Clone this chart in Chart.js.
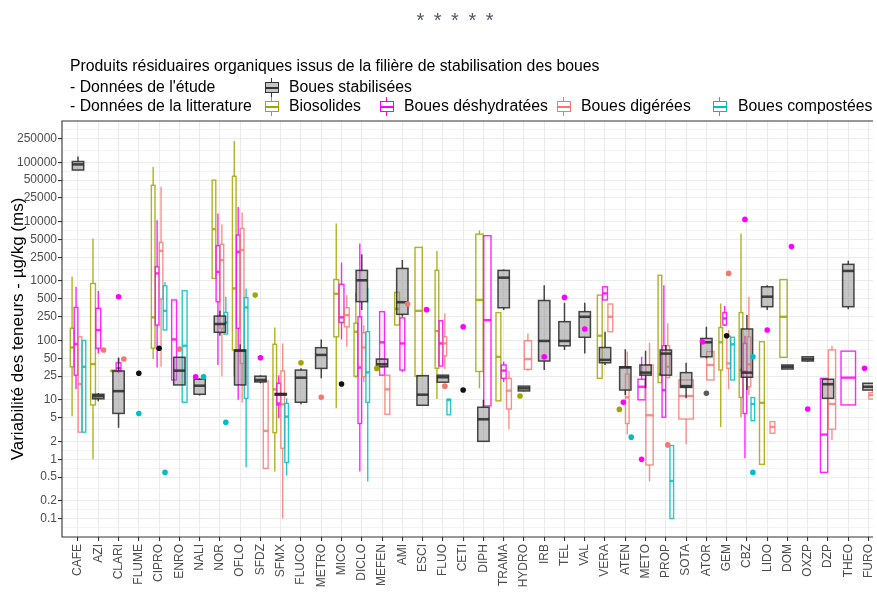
<!DOCTYPE html>
<html lang="fr">
<head>
<meta charset="utf-8">
<title>Variabilité des teneurs</title>
<script src="https://cdn.jsdelivr.net/npm/chart.js@4.4.1/dist/chart.umd.min.js"></script>
<style>
  html, body { margin: 0; padding: 0; background: #fff; }
  #wrap { position: relative; width: 877px; height: 593px; overflow: hidden;
          font-family: "Liberation Sans", Arial, sans-serif; color: #000; }
  #chart { position: absolute; left: 0; top: 0; }
  #stars { position: absolute; left: 356px; top: 10px; width: 200px; text-align: center;
           font-size: 20px; line-height: 20px; letter-spacing: 2px; color: #505868; }
  .lg { position: absolute; font-size: 15.8px; line-height: 20px; white-space: nowrap; }
  .key { position: absolute; width: 18px; height: 19px; }
  .key i { position: absolute; display: block; box-sizing: border-box; }
</style>
</head>
<body>
<div id="wrap">
  <canvas id="chart" width="877" height="593"></canvas>
  <div id="stars">* * * * *</div>
  <div id="legend"></div>
</div>
<script>
// molecules on the x axis
const categories = ['CAFE', 'AZI', 'CLARI', 'FLUME', 'CIPRO', 'ENRO', 'NALI', 'NOR', 'OFLO', 'SFDZ',
  'SFMX', 'FLUCO', 'METRO', 'MICO', 'DICLO', 'MEFEN', 'AMI', 'ESCI', 'FLUO', 'CETI',
  'DIPH', 'TRAMA', 'HYDRO', 'IRB', 'TEL', 'VAL', 'VERA', 'ATEN', 'METO', 'PROP',
  'SOTA', 'ATOR', 'GEM', 'CBZ', 'LIDO', 'DOM', 'OXZP', 'DZP', 'THEO', 'FURO'];

// one entry per molecule: null, a single value, or [min, q1, median, q3, max, ...outliers]  (µg/kg ms)
const stabilisees = [
  [73000, 74000, 92000, 103000, 125000], [9.5, 10.4, 11.5, 12.4, 13], [3.4, 5.9, 14, 30.6, 50], 28, 74,
  [17.8, 17.8, 31, 52, 52], [11.8, 12.4, 17.3, 22.2, 23], [120, 137, 189, 257, 316], [17.8, 17.8, 67, 69, 86], [19, 20, 21.6, 25, 26],
  [11.8, 12, 12.4, 12.8, 13.2], [8.4, 9.1, 23.6, 31.7, 34], [23, 33.8, 57, 75.5, 104], 18.5, [325, 450, 1030, 1510, 2830],
  [35, 36, 39.6, 48.5, 50], [250, 275, 440, 1630, 2270], [8.1, 8.1, 12.2, 25.5, 25.5], [19.8, 19.8, 24, 26, 26], 14.6,
  [2, 2, 4.7, 7.5, 10], [325, 355, 1140, 1510, 1570], [14, 14.1, 15.6, 17, 17], [31.7, 45, 98, 470, 850], [69, 81, 98, 207, 430],
  [60, 113, 250, 305, 430], [38.6, 42, 47, 76, 140], [12, 14.6, 35, 36, 71], [15.6, 26, 28.7, 38.6, 67], [26, 26, 60, 69, 84],
  [10.6, 16.2, 17, 28.7, 42], [50, 53, 93, 108, 170, 12.9], 120, [14.6, 24, 28.7, 156, 267], [325, 370, 545, 800, 850],
  [33, 33, 36, 38.6, 38.6], [44, 45, 48.5, 53, 53], [10.6, 10.6, 18.3, 22.2, 22.2], [335, 370, 1480, 1910, 2200], [14.6, 14.6, 16.6, 19, 19]
];

const biosolides = [
  [5.3, 36, 76, 160, 1180], [1, 8.2, 40, 910, 5200], [30, 30, 31, 31, 31], null, [48, 74, 245, 41000, 83500],
  null, null, [1107, 1107, 7500, 50000, 50000], [25, 69, 750, 58000, 228000], 580,
  [0.62, 2.8, 15, 86, 165], 42, null, [7.2, 115, 610, 1060, 9330], [23.6, 25, 140, 195, 635],
  33.8, [182, 182, 340, 645, 645], [25, 25, 315, 3690, 3690], [10.3, 34, 144, 1510, 3200], null,
  [15.6, 30, 480, 6160, 7100], [9.6, 9.6, 53, 294, 294], 11.6, null, null,
  null, [23, 23, 120, 580, 580], 6.9, null, [19.5, 19.5, 27, 1250, 1250],
  null, null, [3.5, 31.7, 93, 165, 420], [5.1, 11, 31.7, 294, 6300], [0.82, 0.82, 8.9, 95, 95],
  [52, 52, 250, 1060, 1060], null, null, null, null
];

const deshydratees = [
  [15, 26, 87, 360, 800], [60, 74, 150, 347, 680], [28, 30, 34, 42, 52, 545], null, [35, 182, 1345, 1740, 10600],
  [21.6, 21.6, 104, 480, 480], 24.5, [38.6, 448, 1430, 3930, 13700], [10, 160, 3100, 5930, 17700], 51,
  [4.9, 8.2, 8.7, 19, 26], null, null, [104, 202, 245, 880, 2050], [0.62, 4, 35, 250, 4300],
  [26, 26, 93, 305, 305], [29.8, 31.7, 89, 240, 245], 330, [37, 37, 89, 215, 215], 170,
  [7.9, 7.9, 220, 5800, 5800], [20, 23, 31, 38.6, 44], null, 53, 530,
  156, [480, 480, 620, 800, 800], 9.1, [10, 10, 16.6, 22.2, 53, 1], [5.1, 5.1, 14.6, 81, 850],
  null, 95, [175, 182, 235, 294, 380], [1.04, 5.9, 29.8, 89, 120, 10900], 150,
  3800, 7, [0.6, 0.6, 2.6, 23, 23], [8.2, 8.2, 23.6, 66, 66], 34
];

const digerees = [
  [2.85, 2.85, 18.5, 115, 115], 69, 48.7, null, [36, 500, 3230, 4470, 38500],
  71.6, null, [25, 160, 2250, 4140, 9000], [8.9, 41, 3320, 7680, 14300], [0.7, 0.7, 3, 20.8, 20.8],
  [0.1, 1.53, 8.4, 30.6, 89], null, 11, [78, 170, 267, 355, 580], [20, 24.5, 76, 134, 180],
  [5.7, 5.7, 15, 26, 26], 410, null, [32.6, 55, 89, 115, 285, 17], null,
  null, [3.2, 7, 14.3, 23, 30.6], [30.6, 32.6, 48.5, 99, 131], null, null,
  null, [140, 140, 250, 410, 410], [2.6, 4, 11, 27, 65], [0.42, 0.8, 5.5, 38.6, 91], [23.6, 23.6, 36, 81.5, 195, 1.74],
  [1.78, 4.75, 11.6, 21.6, 21.6], [21.6, 21.6, 38.6, 65, 65], [15, 34, 41, 118, 150, 1345], [12, 16.6, 39.6, 115, 545], [2.74, 2.74, 3.5, 4.3, 4.3],
  null, null, [2.1, 3.2, 8.5, 69, 81], null, [10.3, 10.3, 12, 13.2, 16.6]
];

const compostees = [
  [2.85, 2.85, 36, 100, 100], null, null, 5.9, [150, 150, 315, 830, 950, 0.6],
  [9.1, 9.1, 81.5, 685, 685], 24.5, [128, 128, 200, 295, 545, 4.2], [0.73, 10.6, 360, 525, 750], null,
  [0.53, 0.88, 5.2, 8.7, 10.6], null, null, null, [0.42, 9.1, 29, 140, 770],
  null, null, null, [5.6, 5.6, 10, 10.2, 10.2], null,
  null, null, null, null, null,
  null, null, 2.35, null, [0.1, 0.1, 0.43, 1.7, 1.7],
  null, null, [21.6, 21.6, 86, 113, 113], [4.45, 4.45, 8.5, 10.9, 10.9, 53, 0.6], null,
  null, null, null, null, null
];

const yBreaks = [0.1, 0.2, 0.5, 1, 2, 5, 10, 25, 50, 100, 250, 500, 1000, 2500, 5000, 10000, 25000, 50000, 100000, 250000];

// literature groups, dodged side by side inside each molecule
const groups = [
  { label: 'Biosolides', data: biosolides, line: 'rgba(163,165,0,0.85)', dot: '#A3A500' },
  { label: 'Boues déshydratées', data: deshydratees, line: 'rgba(255,0,255,0.85)', dot: '#FF00FF' },
  { label: 'Boues digérées', data: digerees, line: 'rgba(248,118,109,0.8)', dot: '#F8766D' },
  { label: 'Boues compostées', data: compostees, line: 'rgba(0,191,196,0.85)', dot: '#00BFC4' }
];
const STUDY_LINE = 'rgba(40,40,40,0.85)';
const STUDY_FILL = 'rgba(140,140,140,0.5)';
const DODGE = 0.78, BOX_FRAC = 0.92, STUDY_W = 0.56;

function slot(g, ci) {
  const present = groups.filter(o => o.data[ci] != null);
  const w = DODGE / present.length;
  const k = present.indexOf(g);
  return { x: ci - DODGE / 2 + w * (k + 0.5), w: w * BOX_FRAC };
}

// single values and outliers go to scatter datasets
function pointsOf(values, g, outliersOnly) {
  const pts = [];
  values.forEach((v, ci) => {
    if (v == null) return;
    const x = g ? slot(g, ci).x : ci;
    if (typeof v === 'number') { if (!outliersOnly) pts.push({ x: x, y: v }); }
    else if (outliersOnly !== false) v.slice(5).forEach(o => pts.push({ x: x, y: o }));
  });
  return pts;
}

// minor grid lines halfway (in log space) between the breaks
const r0 = yBreaks[1] / yBreaks[0];
const yMinor = [yBreaks[0] / Math.sqrt(r0)];
for (let i = 0; i < yBreaks.length - 1; i++) yMinor.push(Math.sqrt(yBreaks[i] * yBreaks[i + 1]));
yMinor.push(yBreaks[yBreaks.length - 1] * Math.sqrt(r0));
const yTicks = yBreaks.concat(yMinor).sort((a, b) => a - b);
const isBreak = v => yBreaks.indexOf(v) !== -1;

function drawBox(ctx, xs, ys, cx, w, v, stroke, fill, lw) {
  const l = xs.getPixelForValue(cx - w / 2), r = xs.getPixelForValue(cx + w / 2), c = xs.getPixelForValue(cx);
  const yLo = ys.getPixelForValue(v[0]), yQ1 = ys.getPixelForValue(v[1]), yMed = ys.getPixelForValue(v[2]);
  const yQ3 = ys.getPixelForValue(v[3]), yHi = ys.getPixelForValue(v[4]);
  ctx.strokeStyle = stroke;
  ctx.lineWidth = lw;
  ctx.beginPath();
  ctx.moveTo(c, yHi); ctx.lineTo(c, yQ3);
  ctx.moveTo(c, yQ1); ctx.lineTo(c, yLo);
  ctx.stroke();
  if (fill) { ctx.fillStyle = fill; ctx.fillRect(l, yQ3, r - l, yQ1 - yQ3); }
  ctx.strokeRect(l, yQ3, r - l, yQ1 - yQ3);
  ctx.lineWidth = lw * 1.7;
  ctx.beginPath(); ctx.moveTo(l, yMed); ctx.lineTo(r, yMed); ctx.stroke();
}

const boxPlugin = {
  id: 'boxes',
  beforeDatasetsDraw(chart) {
    const { ctx, chartArea: a, scales: { x, y } } = chart;
    ctx.save();
    ctx.beginPath(); ctx.rect(a.left, a.top, a.right - a.left, a.bottom - a.top); ctx.clip();
    groups.forEach(g => {
      g.data.forEach((v, ci) => {
        if (!Array.isArray(v)) return;
        const s = slot(g, ci);
        drawBox(ctx, x, y, s.x, s.w, v, g.line, null, 1.4);
      });
    });
    stabilisees.forEach((v, ci) => {
      if (Array.isArray(v)) drawBox(ctx, x, y, ci, STUDY_W, v, STUDY_LINE, STUDY_FILL, 1.5);
    });
    ctx.restore();
  }
};

const framePlugin = {
  id: 'frame',
  afterDraw(chart) {
    const { ctx, chartArea: a } = chart;
    ctx.save();
    ctx.strokeStyle = '#333';
    ctx.lineWidth = 1.1;
    ctx.beginPath();
    ctx.moveTo(a.right, a.top); ctx.lineTo(a.left, a.top);
    ctx.lineTo(a.left, a.bottom); ctx.lineTo(a.right, a.bottom);
    ctx.stroke();
    ctx.restore();
  }
};

const datasets = groups.map(g => ({
  label: g.label,
  data: pointsOf(g.data, g),
  backgroundColor: g.dot,
  borderWidth: 0,
  pointRadius: 2.8
}));
datasets.push({ label: 'Boues stabilisées', data: pointsOf(stabilisees, null, false), backgroundColor: '#111', borderWidth: 0, pointRadius: 2.8 });
datasets.push({ label: 'Boues stabilisées (atypiques)', data: pointsOf(stabilisees, null, true), backgroundColor: '#5a5a5a', borderWidth: 0, pointRadius: 2.8 });

Chart.defaults.font.family = '"Liberation Sans", Arial, sans-serif';

new Chart(document.getElementById('chart'), {
  type: 'scatter',
  data: { datasets: datasets },
  options: {
    responsive: false,
    animation: false,
    events: [],
    layout: { padding: { top: 121, right: 0, bottom: 0, left: 0 } },
    plugins: { legend: { display: false }, tooltip: { enabled: false } },
    scales: {
      x: {
        type: 'linear',
        min: -0.79,
        max: 39.22,
        afterBuildTicks: s => { s.ticks = categories.map((c, i) => ({ value: i })); },
        afterFit: s => { s.height = 56; s.paddingLeft = 0; s.paddingRight = 0; },
        border: { display: false },
        grid: { color: '#EBEBEB', lineWidth: 1.1, tickColor: '#333', tickLength: 4 },
        ticks: {
          autoSkip: false, minRotation: 90, maxRotation: 90, padding: 3,
          color: '#4D4D4D', font: { size: 12 },
          callback: v => categories[v]
        }
      },
      y: {
        type: 'logarithmic',
        min: 0.049,
        max: 495000,
        afterBuildTicks: s => { s.ticks = yTicks.map(v => ({ value: v })); },
        afterFit: s => { s.width = 62; s.paddingTop = 0; s.paddingBottom = 0; },
        border: { display: false },
        grid: {
          color: '#EBEBEB',
          lineWidth: c => (c.tick && isBreak(c.tick.value) ? 1.1 : 0.6),
          tickColor: c => (c.tick && isBreak(c.tick.value) ? '#333' : 'rgba(0,0,0,0)'),
          tickLength: 4
        },
        ticks: {
          autoSkip: false, padding: 1, color: '#4D4D4D', font: { size: 12 },
          callback: v => (isBreak(v) ? String(v) : '')
        },
        title: {
          display: true,
          text: 'Variabilité des teneurs - µg/kg (ms)',
          color: '#000',
          font: { size: 17 },
          padding: { top: 8, bottom: 0 }
        }
      }
    }
  },
  plugins: [boxPlugin, framePlugin]
});

// legend block above the panel
const legend = document.getElementById('legend');
function addText(text, left, top) {
  const el = document.createElement('div');
  el.className = 'lg';
  el.textContent = text;
  el.style.left = left + 'px';
  el.style.top = top + 'px';
  legend.appendChild(el);
}
function addKey(stroke, fill, left, top) {
  const k = document.createElement('div');
  k.className = 'key';
  k.style.left = left + 'px';
  k.style.top = top + 'px';
  k.innerHTML =
    '<i style="left:8px;top:0;width:1.2px;height:19px;background:' + stroke + '"></i>' +
    '<i style="left:2px;top:4px;width:14px;height:11px;border:1.2px solid ' + stroke + ';background:' + fill + '"></i>' +
    '<i style="left:2px;top:8.5px;width:14px;height:2px;background:' + stroke + '"></i>';
  legend.appendChild(k);
}
addText('Produits résiduaires organiques issus de la filière de stabilisation des boues', 70, 56);
addText("- Données de l'étude", 70, 77);
addKey('#333', '#C6C6C6', 263, 78);
addText('Boues stabilisées', 289, 77);
addText('- Données de la litterature', 70, 96);
const keyLeft = [263, 378, 555, 711];
const textLeft = [289, 404, 581, 738];
groups.forEach((g, i) => {
  addKey(g.dot, '#fff', keyLeft[i], 97);
  addText(g.label, textLeft[i], 96);
});
</script>
</body>
</html>
